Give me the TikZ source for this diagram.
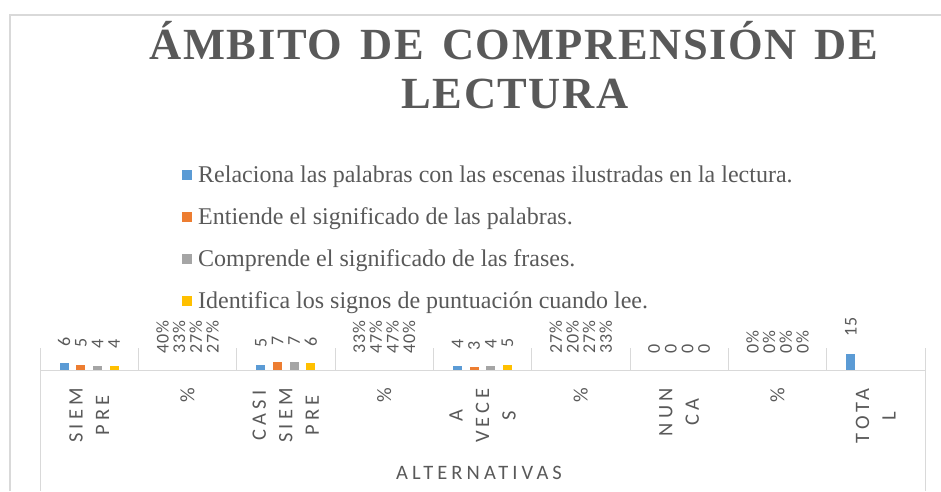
\documentclass[tikz,border=0pt]{standalone}
\usepackage{fontspec}
\setmainfont{Liberation Serif}
\newfontfamily\titlefont{Liberation Serif}[LetterSpace=3.5,BoldFont={Liberation Serif Bold}]
\newfontfamily\titlefontw{Liberation Serif}[LetterSpace=3.5,WordSpace=1.45,BoldFont={Liberation Serif Bold}]
\newfontfamily\catfont{Carlito}[LetterSpace=20]
\newfontfamily\lblfont{Carlito}[LetterSpace=4]
\definecolor{txt}{HTML}{595959}
\definecolor{gridc}{HTML}{D9D9D9}
\definecolor{sA}{HTML}{5B9BD5}
\definecolor{sB}{HTML}{ED7D31}
\definecolor{sC}{HTML}{A5A5A5}
\definecolor{sD}{HTML}{FFC000}
\begin{document}
\begin{tikzpicture}[x=1pt,y=-1pt,
  gline/.style={draw=gridc,line width=1pt},
  fline/.style={draw=gridc,line width=1.4pt},
  titletxt/.style={text=txt,inner sep=0pt,anchor=base},
  legtxt/.style={font={\fontsize{24}{28}\selectfont},text=txt,inner sep=0pt,anchor=base west},
  legsq/.style={minimum size=10pt,inner sep=0pt,draw=none},
  numlbl/.style={font={\lblfont\fontsize{18}{21}\selectfont},text=txt,inner sep=0pt,rotate=90,anchor=west},
  catlbl/.style={font={\catfont\fontsize{20.5}{26.5}\selectfont},text=txt,inner sep=0pt,rotate=90,anchor=east,align=center},
  grplbl/.style={font={\catfont\fontsize{20.5}{26.5}\selectfont},text=txt,inner sep=0pt,anchor=base},
]
\useasboundingbox (0,0) rectangle (941,491);
% chart frame
\coordinate (fbl) at (10,491);
\coordinate (ftl) at (10,15);
\coordinate (ftr) at (941,15);
\draw[fline] (fbl) -- (ftl) -- (ftr);
% title
\node[titletxt,font={\titlefontw\bfseries\fontsize{44.5}{49}\selectfont}] (title1) at (514,59.3) {ÁMBITO DE COMPRENSIÓN DE};
\node[titletxt,font={\titlefont\bfseries\fontsize{44.5}{49}\selectfont}] (title2) at (515,108.3) {LECTURA};
% legend
\node[legsq,fill=sA] (sq1) at (187,175) {};
\node[legtxt] (leg1) at (198,182) {Relaciona las palabras con las escenas ilustradas en la lectura.};
\node[legsq,fill=sB] (sq2) at (187,217) {};
\node[legtxt] (leg2) at (198,224) {Entiende el significado de las palabras.};
\node[legsq,fill=sC] (sq3) at (187,259) {};
\node[legtxt] (leg3) at (198,266) {Comprende el significado de las frases.};
\node[legsq,fill=sD] (sq4) at (187,301) {};
\node[legtxt] (leg4) at (198,308) {Identifica los signos de puntuación cuando lee.};
% axis and grid
\coordinate (axL) at (40,370);
\coordinate (axR) at (925,370);
\coordinate (lTop) at (40,348);
\coordinate (lBot) at (40,491);
\coordinate (rTop) at (925,348);
\coordinate (rBot) at (925,491);
\draw[gline] (lTop) -- (lBot);
\draw[gline] (rTop) -- (rBot);
\foreach \k in {1,...,8} {
  \coordinate (tk\k a) at ({40+\k*98.333},348);
  \coordinate (tk\k b) at ({40+\k*98.333},370);
  \draw[gline] (tk\k a) -- (tk\k b);
}
\draw[gline] (axL) -- (axR);
% bars and value labels
\foreach \c/\s/\v/\col in {1/1/6/sA,1/2/5/sB,1/3/4/sC,1/4/4/sD,
                          3/1/5/sA,3/2/7/sB,3/3/7/sC,3/4/6/sD,
                          5/1/4/sA,5/2/3/sB,5/3/4/sC,5/4/5/sD,
                          7/1/0/sA,7/2/0/sB,7/3/0/sC,7/4/0/sD,
                          9/1/15/sA} {
  \pgfmathsetmacro\bx{40+(\c-0.5)*98.333+(\s-2.5)*16.667}
  \pgfmathsetmacro\bt{370-\v*1.1}
  \ifnum\v>0
    \fill[\col] ({\bx-4.35},370) rectangle ({\bx+4.35},\bt);
  \fi
  \node[numlbl] (v\c-\s) at (\bx,{\bt-16.5}) {\v};
}
\foreach \c/\s/\p in {2/1/40,2/2/33,2/3/27,2/4/27,
                      4/1/33,4/2/47,4/3/47,4/4/40,
                      6/1/27,6/2/20,6/3/27,6/4/33,
                      8/1/0,8/2/0,8/3/0,8/4/0} {
  \pgfmathsetmacro\bx{40+(\c-0.5)*98.333+(\s-2.5)*16.667}
  \node[numlbl] (p\c-\s) at (\bx,353.5) {\p\%};
}
% category labels
\node[catlbl] (cat1) at (89.2,388) {SIEM\\PRE};
\node[catlbl] (cat2) at (187.5,388) {\%};
\node[catlbl] (cat3) at (285.8,388) {CASI\\SIEM\\PRE};
\node[catlbl] (cat4) at (384.2,388) {\%};
\node[catlbl] (cat5) at (482.5,388) {A\\VECE\\S};
\node[catlbl] (cat6) at (580.8,388) {\%};
\node[catlbl] (cat7) at (679.2,388) {NUN\\CA};
\node[catlbl] (cat8) at (777.5,388) {\%};
\node[catlbl] (cat9) at (875.8,388) {TOTA\\L};
\node[grplbl] (grp) at (479,479) {ALTERNATIVAS};
\end{tikzpicture}
\end{document}
